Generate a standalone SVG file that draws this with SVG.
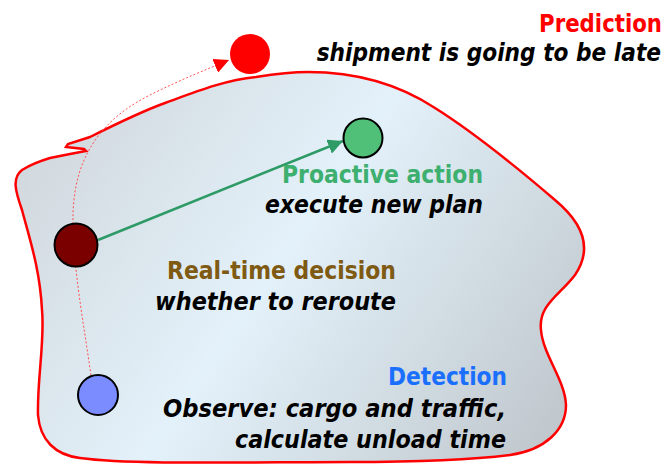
<svg xmlns="http://www.w3.org/2000/svg" width="669" height="465" viewBox="0 0 669 465">
  <defs>
    <linearGradient id="blobFill" gradientUnits="userSpaceOnUse" x1="40" y1="90" x2="580" y2="460">
      <stop offset="0" stop-color="#d0d6db"/>
      <stop offset="0.45" stop-color="#e3f1fa"/>
      <stop offset="1" stop-color="#bcc3c8"/>
    </linearGradient>
    <marker id="arrowGreen" viewBox="0 0 10 10" refX="10" refY="5" markerWidth="6" markerHeight="6" markerUnits="strokeWidth" orient="auto">
      <path d="M0,0 L10,5 L0,10 Z" fill="#2e9a66"/>
    </marker>
    <marker id="arrowRed" viewBox="0 0 10 10" refX="10" refY="5" markerWidth="15" markerHeight="15" markerUnits="strokeWidth" orient="auto">
      <path d="M0,0 L10,5 L0,10 Z" fill="#ff0000"/>
    </marker>
  </defs>
  <style>
    .node { stroke: #000; stroke-width: 2; }
    .head { font-family: "DejaVu Sans", "Liberation Sans", sans-serif; font-size: 24px; font-weight: bold; text-anchor: end; }
    .desc { font-family: "DejaVu Sans", "Liberation Sans", sans-serif; font-size: 24px; font-style: italic; font-weight: bold; text-anchor: end; fill: #000; }
  </style>

  <!-- region outline -->
  <g id="region">
    <path d="M308,72 C360,72 400,85 435,108 C470,130 520,170 555,200 C585,225 592,250 575,275 C560,295 538,305 541,330 C543,355 565,380 566,405 C566,430 545,450 510,455 C470,460 420,462 350,462 C250,462 130,465 80,458 C55,455 40,440 38,415 C37,380 45,340 42,310 C40,270 30,240 22,210 C15,190 12,178 22,170 C30,165 40,161 50,158 L70,154 L86,151 L84,149 L66,147 L68,144 L90,137 C110,127 140,112 165,103 C195,92 225,80 256,77 C275,74 290,72 308,72 Z" fill="url(#blobFill)" stroke="#ff0000" stroke-width="2.5"/>
  </g>

  <!-- connectors -->
  <g id="connectors">
    <path d="M92,383 C85,330 72,265 73,215 C74,170 90,125 150,95 C180,80 205,70 229,60" fill="none" stroke="#ff5050" stroke-width="1" stroke-dasharray="2 2" marker-end="url(#arrowRed)"/>
    <line x1="98" y1="240" x2="343" y2="141" stroke="#2e9a66" stroke-width="2.5" marker-end="url(#arrowGreen)"/>
  </g>

  <g id="prediction">
    <circle cx="250" cy="54" r="20" fill="#ff0000"/>
    <text class="head" transform="translate(662,32) scale(0.887,1)" x="0" y="0" fill="#ff0000">Prediction</text>
    <text class="desc" transform="translate(661,61) scale(0.905,1)" x="0" y="0">shipment is going to be late</text>
  </g>

  <g id="action">
    <circle class="node" cx="363" cy="138" r="19.5" fill="#50c079"/>
    <text class="head" x="483" y="183" fill="#3daf6f" textLength="201" lengthAdjust="spacingAndGlyphs">Proactive action</text>
    <text class="desc" x="483" y="213" textLength="218" lengthAdjust="spacingAndGlyphs">execute new plan</text>
  </g>

  <g id="decision">
    <circle class="node" cx="76" cy="245" r="21.5" fill="#7a0000"/>
    <text class="head" x="396" y="279" fill="#7f5a12" textLength="229" lengthAdjust="spacingAndGlyphs">Real-time decision</text>
    <text class="desc" x="396" y="310" textLength="241" lengthAdjust="spacingAndGlyphs">whether to reroute</text>
  </g>

  <g id="detection">
    <circle class="node" cx="98" cy="395" r="20" fill="#7a8cff"/>
    <text class="head" x="507" y="385" fill="#1a6fff" textLength="119" lengthAdjust="spacingAndGlyphs">Detection</text>
    <text class="desc" x="506" y="417" textLength="343" lengthAdjust="spacingAndGlyphs">Observe: cargo and traffic,</text>
    <text class="desc" x="506" y="448" textLength="271" lengthAdjust="spacingAndGlyphs">calculate unload time</text>
  </g>
</svg>
